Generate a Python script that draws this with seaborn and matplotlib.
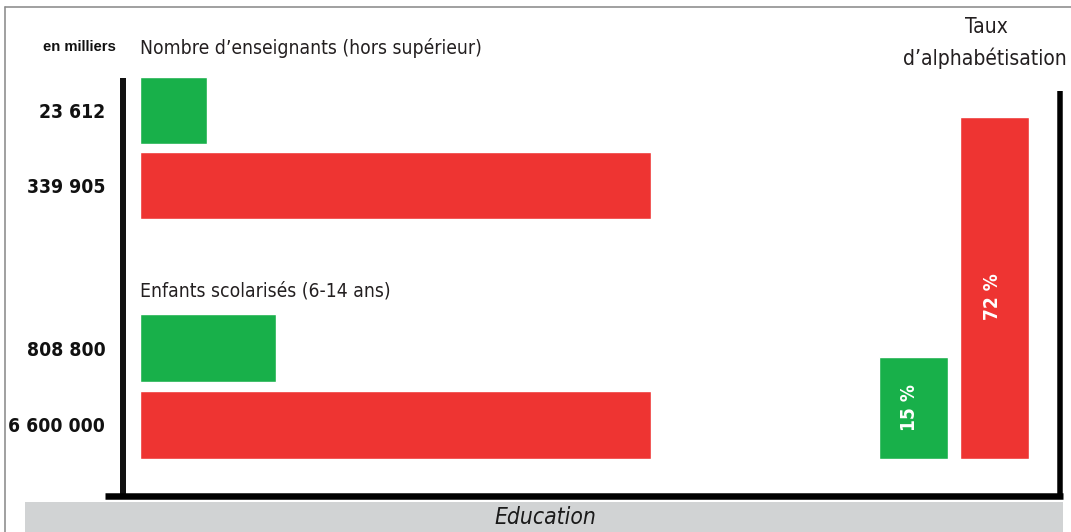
import os
import matplotlib
matplotlib.use("Agg")
import matplotlib.pyplot as plt
import matplotlib.font_manager as fm
from matplotlib.font_manager import FontProperties
from matplotlib.lines import Line2D
from matplotlib.patches import Rectangle
import seaborn as sns
import pandas as pd

# ---------------- data ----------------
teachers_labels = ["23 612", "339 905"]          # en milliers
teachers_share = [13.1, 100.0]                   # bar length as drawn (% of longest)
children_labels = ["808 800", "6 600 000"]
children_share = [26.6, 100.0]
literacy_labels = ["15 %", "72 %"]
literacy_share = [29.8, 100.0]                   # bar height as drawn (% of tallest)
groups = ["vert", "rouge"]

GREEN = "#18b04a"
RED = "#ee3432"

sns.set_theme(style="white")
plt.rcParams["font.family"] = ["DejaVu Sans"]


# ---------- pick a condensed font if one is installed ----------
def _wnum(w):
    if isinstance(w, (int, float)):
        return w
    return {"normal": 400, "regular": 400, "book": 400, "medium": 500,
            "semibold": 600, "demibold": 600, "bold": 700, "heavy": 800,
            "extra bold": 800, "black": 900, "light": 300}.get(str(w).lower(), 400)


def find_font(bold=False, italic=False):
    prefs = ["liberation sans narrow", "dejavu sans condensed", "roboto condensed",
             "open sans condensed", "noto sans condensed", "dejavu sans"]
    best = None
    for f in fm.fontManager.ttflist:
        n = f.name.lower()
        fn = os.path.basename(f.fname).lower()
        cond = ("condensed" in n or "narrow" in n or "condensed" in fn or
                "narrow" in fn or f.stretch in ("condensed", "semi-condensed",
                                                 "extra-condensed"))
        if not cond or "mono" in n or "serif" in n and "sans" not in n:
            continue
        is_it = f.style in ("italic", "oblique")
        if is_it != italic:
            continue
        w = _wnum(f.weight)
        score = abs(w - (700 if bold else 400)) / 100.0
        rank = len(prefs)
        for i, p in enumerate(prefs):
            if p in n or p.replace(" ", "") in fn:
                rank = i
                break
        score += rank * 0.1
        if best is None or score < best[0]:
            best = (score, f.fname)
    if best is not None:
        return FontProperties(fname=best[1])
    return FontProperties(family="DejaVu Sans", weight="bold" if bold else "normal",
                          style="italic" if italic else "normal")


F_REG = find_font()
F_BOLD = find_font(bold=True)
F_IT = find_font(italic=True)

W, H = 1071, 532
fig = plt.figure(figsize=(W / 100, H / 100), dpi=100)
fig.patch.set_facecolor("white")


def box(x0, y0, x1, y1):
    return [x0 / W, 1 - y1 / H, (x1 - x0) / W, (y1 - y0) / H]


def fx(x):
    return x / W


def fy(y):
    return 1 - y / H


def hbars(rect, labels, shares, width):
    ax = fig.add_axes(rect)
    df = pd.DataFrame({"label": labels, "share": shares, "grp": groups})
    sns.barplot(data=df, y="label", x="share", hue="grp",
                palette=[GREEN, RED], orient="h", width=width,
                dodge=False, legend=False, ax=ax, saturation=1)
    ax.set_xlim(0, 100)
    ax.set_ylim(1.5, -0.5)
    ax.set_xlabel("")
    ax.set_ylabel("")
    ax.set_xticks([])
    for s in ax.spines.values():
        s.set_visible(False)
    ax.tick_params(axis="y", length=0, pad=25)
    for t in ax.get_yticklabels():
        t.set_fontproperties(F_BOLD)
        t.set_fontsize(18)
        t.set_color("#111111")
    ax.patch.set_alpha(0)
    return ax


ax1 = hbars(box(140, 73, 651, 223), teachers_labels, teachers_share, 0.893)
ax2 = hbars(box(140, 309.5, 651, 463.5), children_labels, children_share, 0.88)

# vertical literacy bars
axv = fig.add_axes(box(873, 117, 1035, 459))
dfv = pd.DataFrame({"label": literacy_labels, "share": literacy_share, "grp": groups})
sns.barplot(data=dfv, x="label", y="share", hue="grp", palette=[GREEN, RED],
            width=0.84, dodge=False, legend=False, ax=axv, saturation=1)
axv.set_ylim(0, 100)
axv.set_xlim(-0.5, 1.5)
axv.set_xticks([])
axv.set_yticks([])
axv.set_xlabel("")
axv.set_ylabel("")
for s in axv.spines.values():
    s.set_visible(False)
axv.patch.set_alpha(0)
pct_texts = []
for i, (lab, h) in enumerate(zip(literacy_labels, literacy_share)):
    ypos = h * (0.5 if i == 0 else 0.475)
    xoff = -0.05 if i == 0 else -0.02
    pct_texts.append(axv.text(i + xoff, ypos, lab, rotation=90, ha="center",
                              va="center", color="white", fontproperties=F_BOLD,
                              fontsize=14))

# frame and axis lines
k = 72 / 100  # px -> pt
fig.add_artist(Line2D([fx(5), fx(1071)], [fy(7), fy(7)], color="#8c8c8c", lw=1.6 * k))
fig.add_artist(Line2D([fx(5), fx(5)], [fy(7), fy(532)], color="#8c8c8c", lw=1.6 * k))
fig.add_artist(Rectangle((fx(25), fy(532)), fx(1063) - fx(25), fy(502) - fy(532),
                         transform=fig.transFigure, color="#d1d3d4", lw=0))
fig.add_artist(Line2D([fx(123), fx(123)], [fy(78), fy(496)], color="#111111",
                      lw=6 * k, solid_capstyle="butt"))
fig.add_artist(Line2D([fx(1060), fx(1060)], [fy(91), fy(499)], color="#000000",
                      lw=5.5 * k, solid_capstyle="butt"))
fig.add_artist(Line2D([fx(105), fx(1063)], [fy(496), fy(496)], color="#000000",
                      lw=6.5 * k, solid_capstyle="butt"))

# texts  (text, target width in px)
fitted = []
t = fig.text(fx(79), fy(47), "en milliers", ha="center", va="center", fontsize=10,
             fontweight="bold", family=["Liberation Sans", "DejaVu Sans"],
             color="#111111")
fitted.append((t, 74))
t = fig.text(fx(140), fy(48), "Nombre d\u2019enseignants (hors supérieur)", ha="left",
             va="center", fontproperties=F_REG, fontsize=16, color="#231f20")
fitted.append((t, 342))
t = fig.text(fx(140), fy(291), "Enfants scolarisés (6-14 ans)", ha="left",
             va="center", fontproperties=F_REG, fontsize=16, color="#231f20")
fitted.append((t, 251))
t_taux = fig.text(fx(986), fy(27), "Taux", ha="center", va="center",
                  fontproperties=F_REG, fontsize=14, color="#231f20")
t = fig.text(fx(985), fy(58), "d\u2019alphabétisation", ha="center", va="center",
             fontproperties=F_REG, fontsize=14, color="#231f20")
fitted.append((t, 164))
t = fig.text(fx(545), fy(518), "Education", ha="center", va="center",
             fontproperties=F_IT, fontsize=17, color="#1a1a1a")
fitted.append((t, 102))

fig.canvas.draw()
r = fig.canvas.get_renderer()
for t, target in fitted:
    bb = t.get_window_extent(r)
    t.set_fontsize(t.get_fontsize() * target / bb.width)
    if t.get_text().startswith("d\u2019alph"):
        t_taux.set_fontsize(t.get_fontsize())

# fit the number labels (widest one = "6 600 000", about 97 px)
lab = [tt for tt in ax2.get_yticklabels() if tt.get_text() == "6 600 000"][0]
bb = lab.get_window_extent(r)
size = lab.get_fontsize() * 97 / bb.width
for ax in (ax1, ax2):
    for tt in ax.get_yticklabels():
        tt.set_fontsize(size)

# fit percent labels (about 48 px long)
bb = pct_texts[0].get_window_extent(r)
ps = pct_texts[0].get_fontsize() * 47 / bb.height
for tt in pct_texts:
    tt.set_fontsize(ps)

fig.savefig("out.png", dpi=100, facecolor="white")
